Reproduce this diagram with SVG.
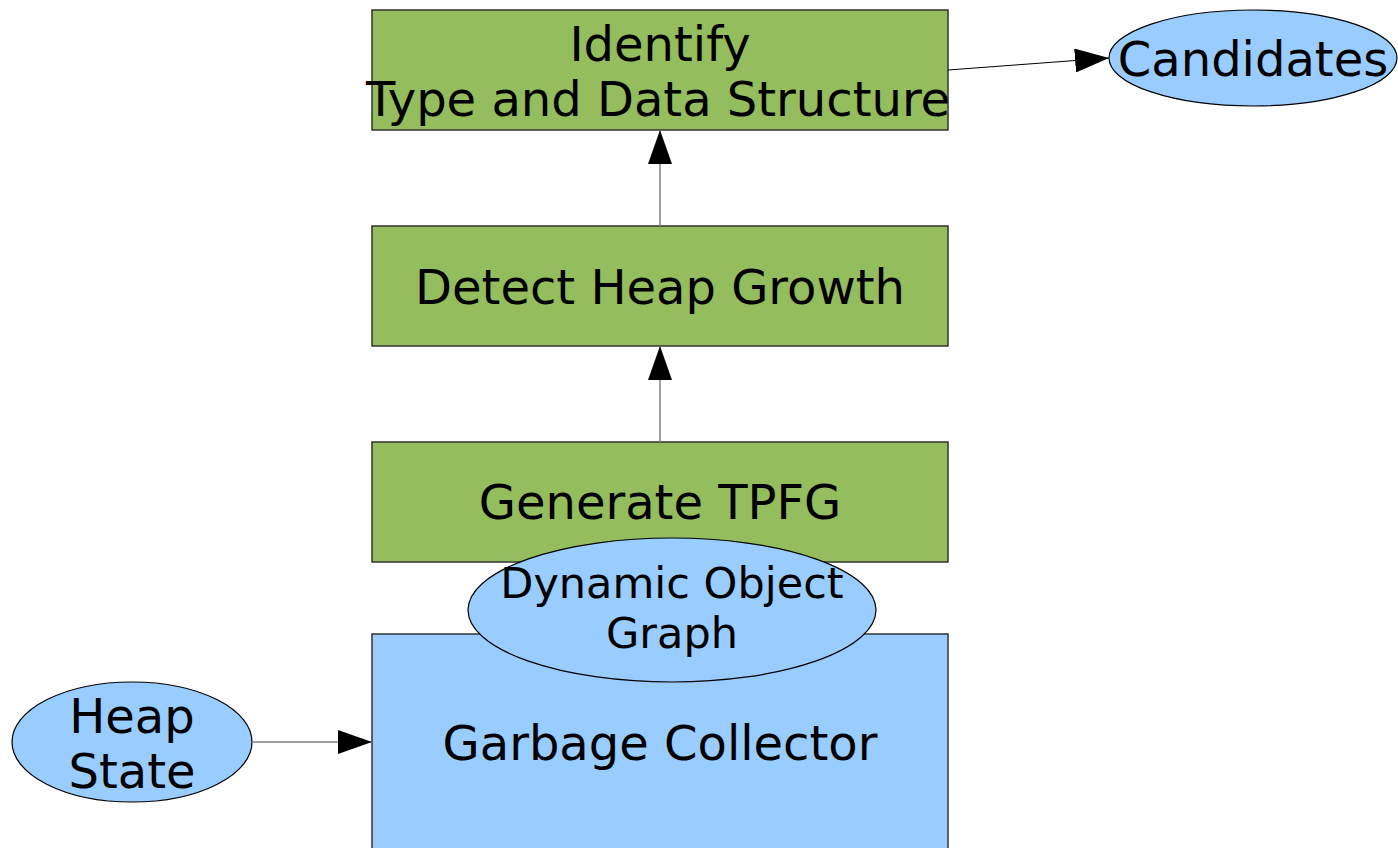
<svg xmlns="http://www.w3.org/2000/svg" width="1398" height="848" viewBox="0 0 1398 848">
  <style>
    .step { fill: #94bd5e; stroke: #333333; stroke-width: 1.5; }
    .data { fill: #99ccff; stroke: #000000; stroke-width: 1.2; }
    .box { fill: #99ccff; stroke: #333333; stroke-width: 1.5; }
    text { font-family: "DejaVu Sans", "Liberation Sans", sans-serif; font-size: 48px; fill: #000000; text-anchor: middle; }
    .small { font-size: 43px; }
    .link { stroke: #808080; stroke-width: 1.5; fill: none; }
    .link-dark { stroke: #000000; stroke-width: 1; fill: none; }
  </style>
  <defs>
    <marker id="head" viewBox="0 0 34 24" refX="34" refY="12" markerWidth="34" markerHeight="24" markerUnits="userSpaceOnUse" orient="auto">
      <path d="M0,0 L34,12 L0,24 Z" fill="#000000"/>
    </marker>
  </defs>

  <g id="garbage-collector">
    <rect class="box" x="372" y="634" width="576" height="230"/>
    <text x="660" y="760">Garbage Collector</text>
  </g>

  <g id="generate-tpfg">
    <rect class="step" x="372" y="442" width="576" height="120"/>
    <text x="660" y="519">Generate TPFG</text>
  </g>

  <g id="dynamic-object-graph">
    <ellipse class="data" cx="672" cy="610" rx="204" ry="72"/>
    <text class="small" x="672" y="598">Dynamic Object</text>
    <text class="small" x="672" y="648">Graph</text>
  </g>

  <g id="detect-heap-growth">
    <rect class="step" x="372" y="226" width="576" height="120"/>
    <text x="660" y="304">Detect Heap Growth</text>
  </g>

  <g id="identify">
    <rect class="step" x="372" y="10" width="576" height="120"/>
    <text x="660" y="61">Identify</text>
    <text x="658" y="116">Type and Data Structure</text>
  </g>

  <g id="candidates">
    <ellipse class="data" cx="1253" cy="58" rx="144" ry="48"/>
    <text x="1253" y="76">Candidates</text>
  </g>

  <g id="heap-state">
    <ellipse class="data" cx="132" cy="742" rx="120" ry="60"/>
    <text x="132" y="733">Heap</text>
    <text x="132" y="788">State</text>
  </g>

  <g id="connectors">
    <line class="link" x1="660" y1="442" x2="660" y2="346" marker-end="url(#head)"/>
    <line class="link" x1="660" y1="226" x2="660" y2="130" marker-end="url(#head)"/>
    <line class="link" x1="252" y1="742" x2="372" y2="742" marker-end="url(#head)"/>
    <line class="link-dark" x1="948" y1="70" x2="1109" y2="58" marker-end="url(#head)"/>
  </g>
</svg>
